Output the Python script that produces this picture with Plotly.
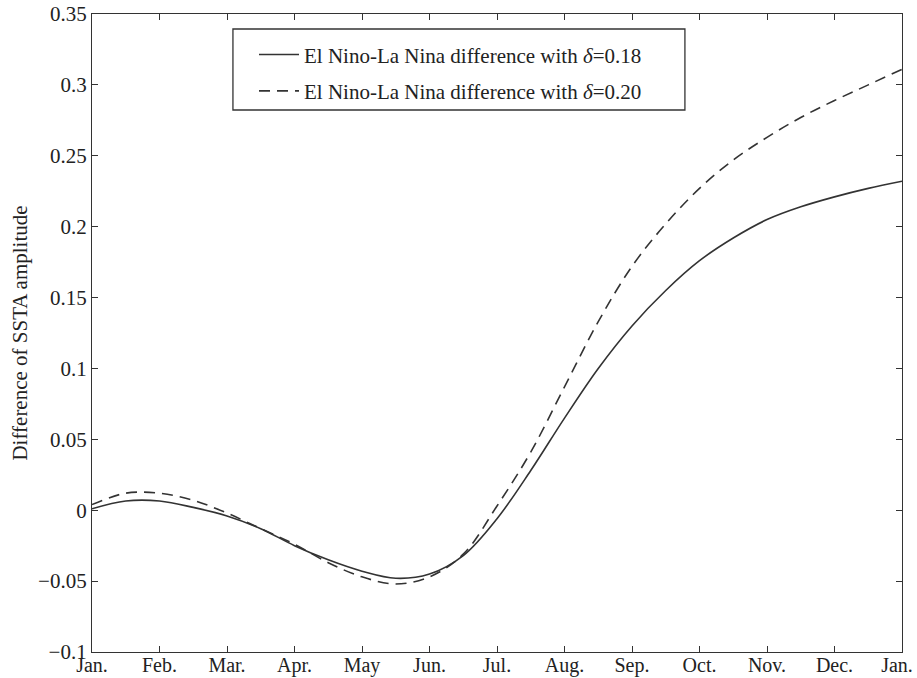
import plotly.graph_objects as go

months = [0, 0.5, 1, 1.5, 2, 2.5, 3, 3.5, 4, 4.5, 5, 5.5, 6, 6.5, 7, 7.5, 8, 8.5, 9, 9.5, 10, 10.5, 11, 11.5, 12]
diff_018 = [0.001, 0.0065, 0.0065, 0.002, -0.004, -0.013, -0.025, -0.035, -0.043, -0.048, -0.045, -0.032, -0.006,
            0.028, 0.065, 0.100, 0.130, 0.155, 0.176, 0.192, 0.205, 0.214, 0.221, 0.227, 0.232]
diff_020 = [0.004, 0.012, 0.012, 0.007, -0.002, -0.013, -0.024, -0.037, -0.047, -0.052, -0.047, -0.031, 0.003,
            0.041, 0.087, 0.133, 0.172, 0.202, 0.227, 0.247, 0.263, 0.277, 0.289, 0.300, 0.311]

x_tickvals = list(range(13))
x_ticktext = ["Jan.", "Feb.", "Mar.", "Apr.", "May", "Jun.", "Jul.", "Aug.", "Sep.", "Oct.", "Nov.", "Dec.",
              "Jan.\u00a0\u00a0"]
y_tickvals = [-0.1, -0.05, 0, 0.05, 0.1, 0.15, 0.2, 0.25, 0.3, 0.35]
y_ticktext = ["\u22120.1", "\u22120.05", "0", "0.05", "0.1", "0.15", "0.2", "0.25", "0.3", "0.35"]

line_color = "#333333"
text_color = "#222222"
font_family = "Liberation Serif"
font_size = 21

fig = go.Figure()
fig.add_trace(go.Scatter(
    x=months, y=diff_018, mode="lines", line_shape="spline",
    line=dict(color=line_color, width=1.6),
    name="El Nino-La Nina difference with <i>\u03b4</i>=0.18",
    legendgroup="a",
))
fig.add_trace(go.Scatter(
    x=months, y=diff_020, mode="lines", line_shape="spline",
    line=dict(color=line_color, width=1.6, dash="11px,7px"),
    name="El Nino-La Nina difference with <i>\u03b4</i>=0.20",
    legendgroup="b",
))

axis_common = dict(
    showline=True, linecolor=line_color, linewidth=1.3, mirror="ticks",
    ticks="inside", ticklen=6, tickcolor=line_color, tickwidth=1,
    showgrid=False, zeroline=False, automargin=False,
    ticklabeloverflow="allow",
)

fig.update_layout(
    width=917, height=678,
    margin=dict(l=92, r=15, t=14, b=26),
    paper_bgcolor="white", plot_bgcolor="white",
    font=dict(family=font_family, size=font_size, color=text_color),
    xaxis=dict(range=[0, 12], tickvals=x_tickvals, ticktext=x_ticktext,
               ticklabelstandoff=-5,
               tickfont=dict(family=font_family, size=20, color=text_color),
               **axis_common),
    yaxis=dict(range=[-0.1, 0.35], tickvals=y_tickvals, ticktext=y_ticktext,
               tickfont=dict(family=font_family, size=font_size, color=text_color),
               title=dict(text="Difference of SSTA amplitude", standoff=4,
                          font=dict(family=font_family, size=font_size, color=text_color)),
               **axis_common),
    legend=dict(
        x=0.2, y=0.968, xanchor="left", yanchor="top",
        borderwidth=0, bgcolor="rgba(0,0,0,0)",
        font=dict(family=font_family, size=font_size, color=text_color),
        tracegroupgap=6, itemwidth=40,
    ),
    shapes=[dict(type="rect", xref="paper", yref="paper",
                 x0=0.174, x1=0.732, y0=0.8495, y1=0.9765,
                 line=dict(color=line_color, width=1.3), fillcolor="rgba(0,0,0,0)", layer="above")],
    showlegend=True,
)

# remove the default page margin so the figure fills the window exactly
fig.write_html("out.html",
               config={"displayModeBar": False},
               post_script="document.body.style.margin='0';document.body.style.overflow='hidden';")
